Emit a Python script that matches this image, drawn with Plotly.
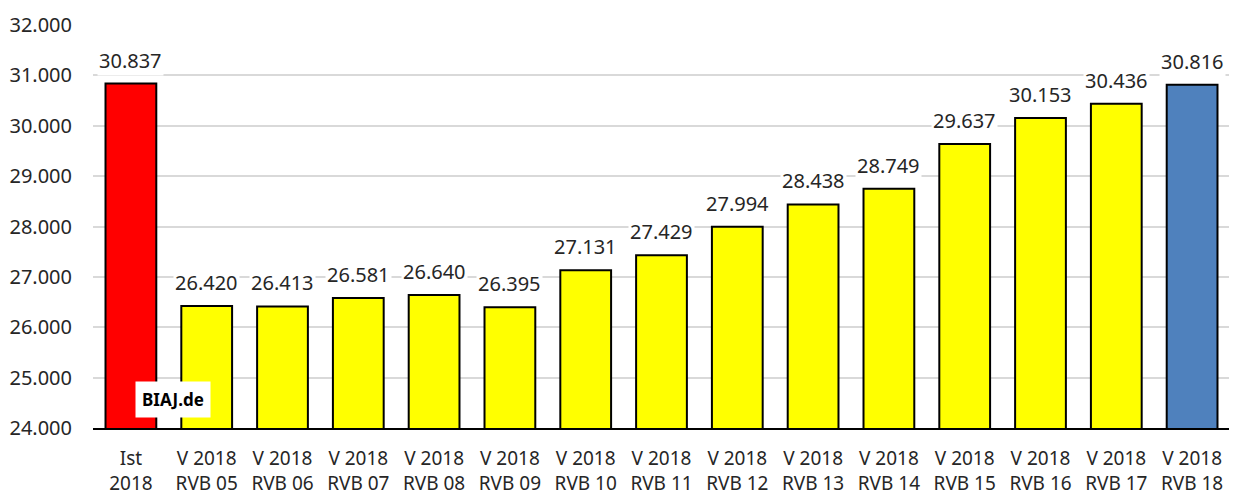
import plotly.graph_objects as go

categories = ["Ist<br>2018", "V 2018<br>RVB 05", "V 2018<br>RVB 06", "V 2018<br>RVB 07", "V 2018<br>RVB 08",
              "V 2018<br>RVB 09", "V 2018<br>RVB 10", "V 2018<br>RVB 11", "V 2018<br>RVB 12", "V 2018<br>RVB 13",
              "V 2018<br>RVB 14", "V 2018<br>RVB 15", "V 2018<br>RVB 16", "V 2018<br>RVB 17", "V 2018<br>RVB 18"]
values = [30837, 26420, 26413, 26581, 26640, 26395, 27131, 27429, 27994, 28438, 28749, 29637, 30153, 30436, 30816]
labels = ["30.837", "26.420", "26.413", "26.581", "26.640", "26.395", "27.131", "27.429", "27.994", "28.438",
          "28.749", "29.637", "30.153", "30.436", "30.816"]
colors = ["#FF0000"] + ["#FFFF00"] * 13 + ["#4F81BD"]

font = "Noto Sans"

fig = go.Figure()
fig.add_trace(go.Bar(
    x=categories, y=values, base=0,
    marker=dict(color=colors, line=dict(color="black", width=2)),
    hoverinfo="skip",
))

for c, v, t in zip(categories, values, labels):
    fig.add_annotation(x=c, y=v, text=t, showarrow=False, yanchor="bottom", yshift=8,
                       bgcolor="white", font=dict(family=font, size=20, color="#262626"))

fig.add_annotation(x=0.55, y=24560, text="<b>BIAJ.de</b>", showarrow=False, xanchor="center", yanchor="middle",
                   bgcolor="white", font=dict(family=font, size=17, color="black"), borderpad=6)

fig.update_layout(
    width=1229, height=486,
    margin=dict(l=85, r=7, t=17, b=66),
    plot_bgcolor="white", paper_bgcolor="white",
    separators=",.",
    bargap=0.33,
    showlegend=False,
    font=dict(family=font, size=19, color="#262626"),
)
fig.update_yaxes(range=[24000, 32000], dtick=1000, tickformat=",.0f", showgrid=True, gridcolor="#D9D9D9",
                 gridwidth=1.5, zeroline=False, ticks="", tickfont=dict(size=20), ticklabelstandoff=20,
                 automargin=False)
fig.update_xaxes(showline=True, linecolor="black", linewidth=2, ticks="", tickfont=dict(size=19),
                 ticklabelstandoff=12, automargin=False)

fig.write_html("out.html")
